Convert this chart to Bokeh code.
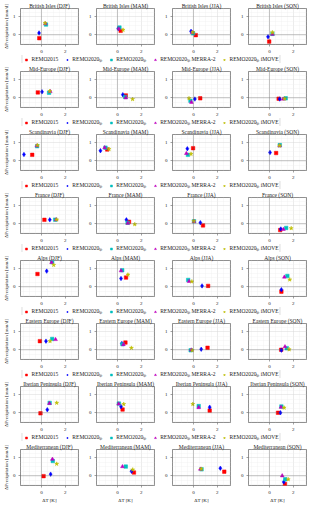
from bokeh.plotting import figure
from bokeh.layouts import column, row
from bokeh.models import Range1d, FixedTicker, Span, Legend, LegendItem
from bokeh.embed import file_html
from bokeh.resources import INLINE

regions = ["British Isles", "Mid-Europe", "Scandinavia", "France", "Alps",
           "Eastern Europe", "Iberian Peninsula", "Mediterranean"]
seasons = ["DJF", "MAM", "JJA", "SON"]

series_labels = ["REMO2015", "REMO2020\u209c\u209a", "REMO2020\u209c\u209a",
                 "REMO2020\u209c\u209a MERRA-2", "REMO2020\u209c\u209a iMOVE"]

# values ordered region by region, seasons DJF, MAM, JJA, SON
dT_remo2015 = [-0.18, 0.27, 0.20, -0.02, -0.30, 0.70, 0.57, 0.77,
               -0.77, -0.85, -0.03, 0.56, 0.25, 0.97, 0.80, 0.90,
               -0.33, 0.72, 1.23, 1.00, -0.13, 0.67, 1.18, 0.98,
               -0.08, 0.43, 1.36, 0.72, 0.18, 1.38, 2.58, 1.30]
dP_remo2015 = [-0.19, 0.22, -0.02, -0.38, 0.30, 0.13, -0.03, -0.05,
               0.33, 0.63, 0.70, 0.43, 0.22, 0.11, -0.09, -0.35,
               0.71, 0.51, 0.05, -0.27, 0.48, 0.40, 0.11, 0.00,
               -0.03, 0.18, 0.12, 0.00, -0.02, 0.18, 0.23, -0.45]

dT_remo2020 = [-0.20, 0.07, -0.20, -0.12, 0.05, 0.45, 0.12, 0.86,
               -1.46, -1.42, -0.51, 0.05, 0.70, 0.75, 0.58, 0.95,
               0.44, 0.30, 0.72, 1.00, 0.38, 0.37, 0.65, 1.00,
               0.49, 0.30, 1.36, 0.92, 0.77, 1.18, 2.25, 1.20]
dP_remo2020 = [0.10, 0.35, 0.19, -0.11, 0.33, 0.17, -0.07, -0.07,
               0.35, 0.56, 0.67, 0.46, 0.22, 0.22, 0.06, -0.29,
               0.87, 0.46, 0.05, -0.16, 0.48, 0.35, 0.03, -0.02,
               0.17, 0.34, 0.31, 0.00, 0.09, 0.25, 0.42, -0.34]

dT_remo2020_b = [0.38, 0.17, -0.03, 0.25, 0.64, 0.65, -0.25, 1.36,
                 -0.36, -1.00, -0.46, 0.87, 1.15, 0.85, 0.05, 1.40,
                 0.90, 0.40, -0.44, 1.50, 0.90, 0.42, -0.23, 1.45,
                 0.69, 0.12, 0.44, 1.00, 0.95, 0.70, 0.68, 1.32]
dP_remo2020_b = [0.57, 0.40, 0.08, 0.05, 0.28, 0.05, -0.17, -0.03,
                 0.81, 0.73, 0.33, 0.87, 0.23, 0.06, 0.14, -0.23,
                 1.37, 0.92, 0.38, 0.60, 0.60, 0.31, -0.03, 0.09,
                 0.55, 0.51, 0.37, 0.35, 0.82, 0.51, 0.36, -0.19]

dT_merra2 = [0.33, 0.12, -0.10, 0.25, 0.74, 0.70, -0.17, 1.14,
             -0.38, -1.07, -0.59, 0.85, 1.23, 0.87, 0.05, 1.17,
             0.85, 0.30, -0.36, 1.25, 1.18, 0.50, -0.18, 1.30,
             0.67, 0.10, 0.44, 0.97, 0.92, 0.42, 0.58, 1.07]
dP_merra2 = [0.62, 0.33, 0.13, 0.03, 0.35, 0.00, -0.25, -0.07,
             0.83, 0.73, 0.41, 0.83, 0.23, 0.03, 0.12, -0.31,
             1.35, 0.89, 0.30, 0.54, 0.57, 0.29, -0.01, 0.17,
             0.52, 0.49, 0.29, 0.31, 0.92, 0.51, 0.37, 0.00]

dT_imove = [0.30, 0.47, -0.05, 0.25, 0.70, 1.27, -0.37, 1.26,
            -0.33, -0.70, -0.20, 0.85, 1.28, 1.45, 0.03, 1.82,
            1.03, 0.88, -0.13, 1.70, 0.72, 1.17, -0.10, 1.65,
            1.28, 0.53, -0.05, 1.23, 1.28, 1.28, 0.65, 1.57]
dP_imove = [0.65, 0.27, 0.14, 0.13, 0.37, -0.08, -0.03, -0.05,
            0.86, 0.65, 0.38, 0.84, 0.23, -0.03, 0.15, -0.25,
            1.21, 0.67, 0.29, 0.40, 0.48, 0.10, -0.03, 0.02,
            0.55, 0.48, 0.48, 0.28, 0.66, 0.34, 0.38, -0.20]

x_ticks = [0, 2]
y_ticks = [0, 1]

series = [
    (dT_remo2015, dP_remo2015, "square", "#ff0000", 3.5),
    (dT_remo2020, dP_remo2020, "diamond", "#0000ff", 4.5),
    (dT_remo2020_b, dP_remo2020_b, "square", "#00bfbf", 3.5),
    (dT_merra2, dP_merra2, "triangle", "#bf00bf", 3.8),
    (dT_imove, dP_imove, "star", "#bfbf00", 4.2),
]

FONT = "Liberation Serif"
FW, FH = 58, 36


def panel(ri, si):
    idx = ri * 4 + si
    first_col = si == 0
    last_row = ri == len(regions) - 1
    p = figure(frame_width=FW, frame_height=FH,
               x_range=Range1d(-1.75, 3.1), y_range=Range1d(-0.54, 1.46),
               toolbar_location=None, output_backend="svg",
               title=f"{regions[ri]} ({seasons[si]})")
    p.min_border_left = 15 if first_col else 17
    p.min_border_right = 1
    p.min_border_top = 0
    p.min_border_bottom = 0
    p.title.text_font = FONT
    p.title.text_font_size = "5.5px"
    p.title.text_font_style = "normal"
    p.title.align = "center"
    p.title.standoff = 0
    p.title.offset = 0
    p.title.text_color = "#222222"
    p.outline_line_color = "#444444"
    p.outline_line_width = 0.6
    p.background_fill_color = "white"
    p.border_fill_color = "white"

    p.xaxis.ticker = FixedTicker(ticks=x_ticks, minor_ticks=[-1.5, -1, -0.5, 0.5, 1, 1.5, 2.5, 3])
    p.yaxis.ticker = FixedTicker(ticks=y_ticks, minor_ticks=[-0.5, -0.25, 0.25, 0.5, 0.75, 1.25])
    for ax in (p.xaxis[0], p.yaxis[0]):
        ax.axis_line_color = None
        ax.major_tick_line_color = "#444444"
        ax.major_tick_line_width = 0.5
        ax.major_tick_out = 2
        ax.major_tick_in = 0
        ax.minor_tick_line_color = None
        ax.major_label_text_font = FONT
        ax.major_label_text_font_size = "5px"
        ax.major_label_text_color = "#222222"
        ax.major_label_standoff = 1
        ax.axis_label_text_font = FONT
        ax.axis_label_text_font_size = "5px"
        ax.axis_label_text_font_style = "normal"
        ax.axis_label_text_color = "#222222"
        ax.axis_label_standoff = 1
    if first_col:
        p.yaxis.axis_label = "\u0394Precipitation [mm/d]"
    if last_row:
        p.xaxis.axis_label = "\u0394T [K]"
    p.xgrid.grid_line_color = "#d8d8d8"
    p.ygrid.grid_line_color = "#d8d8d8"
    p.xgrid.grid_line_width = 0.5
    p.ygrid.grid_line_width = 0.5
    p.xgrid.minor_grid_line_color = "#f0f0f0"
    p.ygrid.minor_grid_line_color = "#f0f0f0"
    p.xgrid.minor_grid_line_width = 0.4
    p.ygrid.minor_grid_line_width = 0.4

    p.add_layout(Span(location=0, dimension="height", line_color="#555555",
                      line_width=0.6, line_dash="1 1"))
    p.add_layout(Span(location=0, dimension="width", line_color="#555555",
                      line_width=0.6, line_dash="1 1"))
    for xs, ys, marker, color, size in series:
        p.scatter(x=[xs[idx]], y=[ys[idx]], marker=marker, size=size,
                  fill_color=color, line_color=color, line_width=0.5)
    return p


def legend_fig():
    # the sample points sit outside this strip's ranges; only their legend swatches show
    p = figure(width=302, height=8, x_range=Range1d(50, 51), y_range=Range1d(50, 51),
               toolbar_location=None, output_backend="svg", min_border=0)
    p.axis.visible = False
    p.grid.visible = False
    p.outline_line_color = None
    items = []
    for (xs, ys, marker, color, size), lab in zip(series, series_labels):
        r = p.scatter(x=xs[:1], y=ys[:1], marker=marker, size=size,
                      fill_color=color, line_color=color, line_width=0.5)
        items.append(LegendItem(label=lab, renderers=[r]))
    lg = Legend(items=items, orientation="horizontal", location="center",
                margin=0, padding=1, spacing=6, glyph_width=5, glyph_height=5,
                label_height=5, label_standoff=3, label_text_font=FONT,
                label_text_font_size="5.5px", label_text_color="#222222",
                border_line_color="#bbbbbb", border_line_width=0.6,
                background_fill_alpha=1.0)
    p.add_layout(lg, "center")
    return p


blocks = []
for ri in range(len(regions)):
    blocks.append(row(*[panel(ri, si) for si in range(4)]))
    if ri < len(regions) - 1:
        blocks.append(legend_fig())

layout = column(*blocks)
open("out.html", "w").write(file_html(layout, INLINE))
